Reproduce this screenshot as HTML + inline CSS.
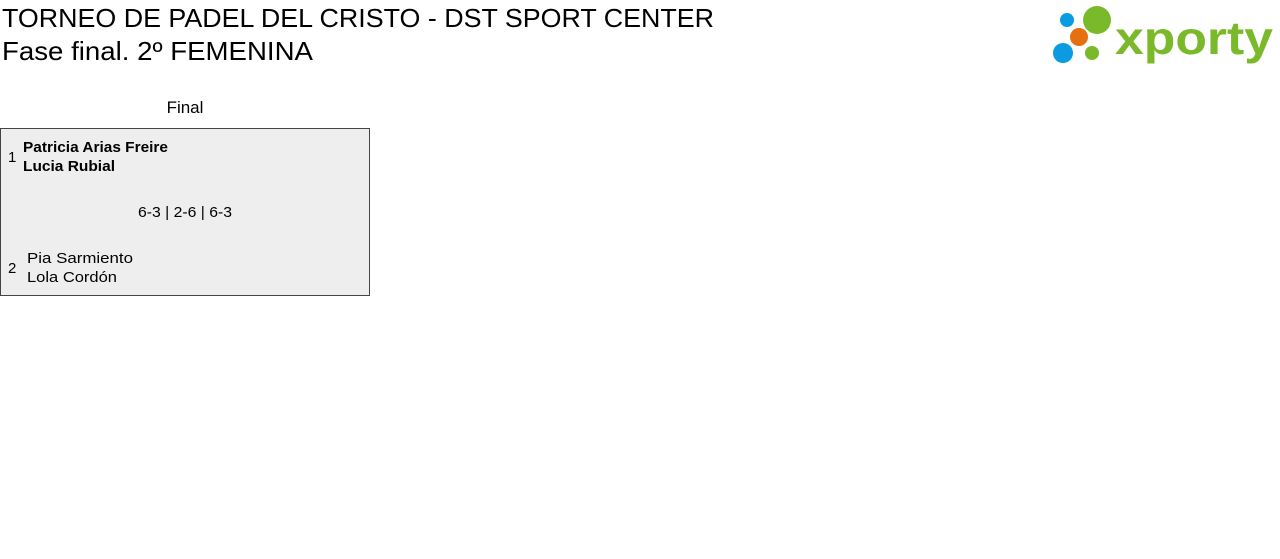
<!DOCTYPE html>
<html><head><meta charset="utf-8"><style>html,body{margin:0;padding:0;background:#fff}svg{display:block}</style></head>
<body>
<svg width="1280" height="559" viewBox="0 0 1280 559" xmlns="http://www.w3.org/2000/svg" font-family="Liberation Sans, sans-serif">
<text x="2" y="27" font-size="26" textLength="712" lengthAdjust="spacingAndGlyphs">TORNEO DE PADEL DEL CRISTO - DST SPORT CENTER</text>
<text x="2" y="60" font-size="26" textLength="311" lengthAdjust="spacingAndGlyphs">Fase final. 2º FEMENINA</text>
<text x="185" y="113" font-size="17" text-anchor="middle">Final</text>
<rect x="0.5" y="128.5" width="369" height="167" fill="#eeeeee" stroke="#444"/>
<text x="8" y="162" font-size="15">1</text>
<text x="23" y="152" font-size="15" font-weight="bold" textLength="145" lengthAdjust="spacingAndGlyphs">Patricia Arias Freire</text>
<text x="23" y="171" font-size="15" font-weight="bold" textLength="92" lengthAdjust="spacingAndGlyphs">Lucia Rubial</text>
<text x="138" y="217" font-size="15" textLength="94" lengthAdjust="spacingAndGlyphs">6-3 | 2-6 | 6-3</text>
<text x="8" y="273" font-size="15">2</text>
<text x="27" y="263" font-size="15" textLength="106" lengthAdjust="spacingAndGlyphs">Pia Sarmiento</text>
<text x="27" y="282" font-size="15" textLength="90" lengthAdjust="spacingAndGlyphs">Lola Cordón</text>
<circle cx="1067" cy="20" r="7" fill="#0b9be0"/>
<circle cx="1097" cy="20" r="14" fill="#7ab929"/>
<circle cx="1079" cy="37" r="9" fill="#e5700f"/>
<circle cx="1063" cy="53" r="10" fill="#0b9be0"/>
<circle cx="1092" cy="53" r="7" fill="#7ab929"/>
<text x="1115" y="54" font-size="46" font-weight="bold" fill="#7ab929" textLength="158" lengthAdjust="spacingAndGlyphs">xporty</text>
</svg>
</body></html>
